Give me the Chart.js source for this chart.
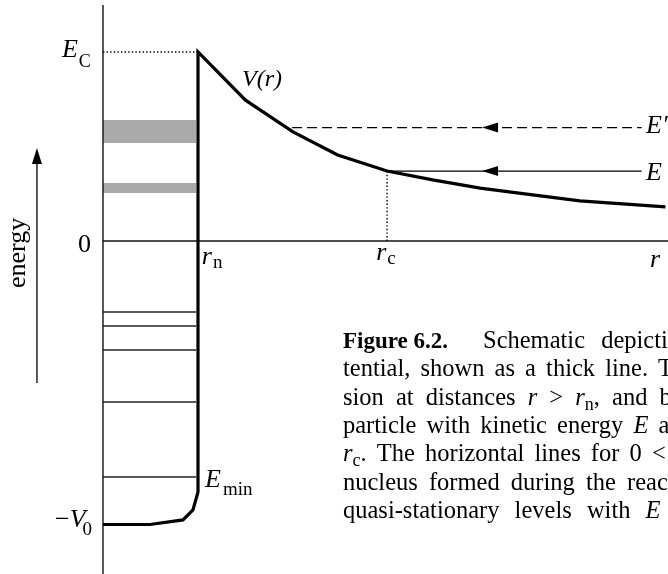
<!DOCTYPE html>
<html lang="en">
<head>
  <meta charset="UTF-8">
  <title>Nuclear potential with Coulomb barrier</title>
  <style>
    html, body { margin: 0; padding: 0; background: #fff; }
    #chart-container { width: 668px; height: 574px; position: relative; }
  </style>
</head>
<body>

<div id="chart-container">
  <canvas id="potentialChart"></canvas>
</div>

<script src="https://cdn.jsdelivr.net/npm/chart.js"></script>
<script>
  // r in units of r_n, energy in arbitrary units (E_C = 10)
  const rCurve = [1.0, 1.5, 2.0, 2.47, 2.99, 3.47, 3.97, 4.46, 5.02, 5.92];
  const vCurve = [10.0, 7.45, 5.77, 4.55, 3.70, 3.23, 2.80, 2.48, 2.12, 1.80];

  // wall and rounded bottom of the well, from r_n inwards
  const rWell = [1.0, 1.0, 0.947, 0.842, 0.495, 0.0];
  const vWell = [10.0, -13.28, -14.23, -14.76, -15.0, -15.0];

  const levelEnergies = [-3.76, -4.50, -5.77, -8.52, -12.49];
  const bandTops = [6.40, 3.07];
  const bandBottoms = [5.19, 2.54];

  const E_C = 10.0;
  const E_prime = 6.0;
  const E_kin = 3.70;
  const r_n = 1.0;
  const r_c = 2.99;
  const rLevelEnd = 0.98;
  const rPrimeStart = 1.99;
  const rIncomingEnd = 5.67;
  const rArrowTip = 3.99;
  const rEnergyArrow = -0.695;
  const energyArrowRange = [-7.51, 4.92];

  const rRange = [-1.084, 5.947];
  const eRange = [-17.62, 12.75];

  const serif = '"Liberation Serif", "Times New Roman", serif';
  const pts = (xs, ys) => xs.map((x, i) => ({ x: x, y: ys[i] }));
  const hline = (y, x0, x1) => [{ x: x0, y: y }, { x: x1, y: y }];

  const datasets = [];

  // thick potential line: curve (right to left) then wall and bottom
  datasets.push({
    data: pts(rCurve.slice().reverse(), vCurve.slice().reverse()).concat(pts(rWell, vWell).slice(1)),
    borderColor: '#000', borderWidth: 3.2, borderJoinStyle: 'miter', order: 0
  });

  // axes
  datasets.push({ data: [{ x: 0, y: 12.49 }, { x: 0, y: -18 }], borderColor: '#111', borderWidth: 1.4, order: 1 });
  datasets.push({ data: hline(0, 0, 6.1), borderColor: '#111', borderWidth: 1.4, order: 1 });

  // energy arrow shaft
  datasets.push({ data: [{ x: rEnergyArrow, y: energyArrowRange[0] }, { x: rEnergyArrow, y: energyArrowRange[1] - 0.4 }],
    borderColor: '#111', borderWidth: 1.4, order: 1 });

  // bound levels
  levelEnergies.forEach(e => {
    datasets.push({ data: hline(e, 0, rLevelEnd), borderColor: '#222', borderWidth: 1.4, order: 1 });
  });

  // E_C dotted, r_c dotted
  datasets.push({ data: hline(E_C, 0, r_n), borderColor: '#000', borderWidth: 1.4, borderDash: [1.4, 2.2], order: 1 });
  datasets.push({ data: [{ x: r_c, y: 0 }, { x: r_c, y: E_kin }], borderColor: '#000', borderWidth: 1.4, borderDash: [1.4, 2.2], order: 1 });

  // incoming particles
  datasets.push({ data: hline(E_prime, rPrimeStart, rIncomingEnd), borderColor: '#000', borderWidth: 1.3, borderDash: [10, 5], order: 1 });
  datasets.push({ data: hline(E_kin, r_c, rIncomingEnd), borderColor: '#000', borderWidth: 1.3, order: 1 });

  // quasi-stationary bands (filled between top and bottom edges)
  bandTops.forEach((top, i) => {
    datasets.push({ data: hline(top, 0, rLevelEnd), borderWidth: 0, fill: '+1', backgroundColor: '#aaaaaa', order: 5 });
    datasets.push({ data: hline(bandBottoms[i], 0, rLevelEnd), borderWidth: 0, fill: false, order: 5 });
  });

  const ital = s => `italic ${s}px ${serif}`;
  const reg = s => `${s}px ${serif}`;
  const bold = s => `bold ${s}px ${serif}`;

  // labels: [r, E, runs]; runs = [text, font, dx, dy]
  const labels = [
    [-0.432, 9.74, [['E', ital(26)], ['C', reg(18), 1, 10]]],
    [1.463, 8.20, [['V(r)', ital(24)]]],
    [-0.263, -0.58, [['0', reg(26)]]],
    [1.040, -1.22, [['r', ital(26)], ['n', reg(19), 1, 4]]],
    [2.875, -1.01, [['r', ital(26)], ['c', reg(19), 1, 4]]],
    [5.758, -1.38, [['r', ital(26)]]],
    [5.716, 5.71, [['E\u2032', ital(26)]]],
    [5.716, 3.23, [['E', ital(26)]]],
    [1.074, -13.02, [['E', ital(26)], ['min', reg(19), 2, 8]]],
    [-0.505, -15.13, [['\u2212', reg(26)], ['V', ital(26)], ['0', reg(19), -3, 8]]]
  ];

  // caption lines (justified in the original, so each line has its own extra word spacing)
  const cs = 24.5, csub = 18;
  const caption = [
    [10, [['Figure\u00a06.2.', bold(23)], ['Schematic depiction of the nuclear po-', reg(cs), 0, 0, 140]]],
    [4, [['tential, shown as a thick line.', reg(cs)], ['The Coulomb repul-', reg(cs), 0, 0, 315]]],
    [6, [['sion at distances ', reg(cs)], ['r', ital(cs)], [' > ', reg(cs)], ['r', ital(cs)], ['n', reg(csub), 0, 5], [', and barrier for a', reg(cs)]]],
    [4, [['particle with kinetic energy ', reg(cs)], ['E', ital(cs)], [' approaching', reg(cs)]]],
    [4, [['r', ital(cs)], ['c', reg(csub), 0, 5], ['. The horizontal lines for 0 < ', reg(cs)], ['r', ital(cs)], [' < ', reg(cs)]]],
    [5, [['nucleus formed during the reaction', reg(cs)]]],
    [9, [['quasi-stationary levels with ', reg(cs)], ['E', ital(cs)], [' > 0', reg(cs)]]]
  ];

  function drawRuns(ctx, x, y, runs, ws) {
    let cx = x;
    ws = ws || 0;
    runs.forEach(run => {
      const dx = run[2] || 0, dy = run[3] || 0;
      ctx.font = run[1];
      if (run[4] !== undefined) cx = x + run[4];
      cx += dx;
      const words = run[0].split(' ');
      const space = ctx.measureText(' ').width;
      words.forEach((w, i) => {
        if (w.length) {
          ctx.fillText(w, cx, y + dy);
          cx += ctx.measureText(w).width;
        }
        if (i < words.length - 1) cx += space + ws;
      });
    });
  }

  const annotations = {
    id: 'annotations',
    afterDatasetsDraw(chart) {
      const ctx = chart.ctx;
      const xs = chart.scales.x, ys = chart.scales.y;
      ctx.save();
      ctx.fillStyle = '#000';
      ctx.textBaseline = 'alphabetic';
      ctx.textAlign = 'left';

      // arrowheads pointing left on incoming lines
      [E_prime, E_kin].forEach(e => {
        const tx = xs.getPixelForValue(rArrowTip), ty = ys.getPixelForValue(e);
        ctx.beginPath();
        ctx.moveTo(tx, ty);
        ctx.lineTo(tx + 16, ty - 5);
        ctx.lineTo(tx + 16, ty + 5);
        ctx.closePath();
        ctx.fill();
      });

      // energy arrow head
      const ax = xs.getPixelForValue(rEnergyArrow), ay = ys.getPixelForValue(energyArrowRange[1]);
      ctx.beginPath();
      ctx.moveTo(ax, ay);
      ctx.lineTo(ax - 5, ay + 16);
      ctx.lineTo(ax + 5, ay + 16);
      ctx.closePath();
      ctx.fill();

      labels.forEach(l => drawRuns(ctx, xs.getPixelForValue(l[0]), ys.getPixelForValue(l[1]), l[2]));

      // rotated axis title
      ctx.save();
      ctx.translate(xs.getPixelForValue(-0.821), ys.getPixelForValue(-0.635));
      ctx.rotate(-Math.PI / 2);
      ctx.textAlign = 'center';
      ctx.font = reg(26);
      ctx.fillText('energy', 0, 0);
      ctx.restore();

      // caption
      const area = chart.chartArea;
      caption.forEach((line, i) => {
        drawRuns(ctx, area.left + 343, area.top + 348 + i * 28.3, line[1], line[0]);
      });
      ctx.restore();
    }
  };

  const ctx = document.getElementById('potentialChart').getContext('2d');
  const myChart = new Chart(ctx, {
    type: 'line',
    data: { datasets: datasets },
    options: {
      responsive: true,
      maintainAspectRatio: false,
      animation: false,
      events: [],
      layout: { padding: 0 },
      elements: { point: { radius: 0 }, line: { tension: 0, fill: false } },
      plugins: { legend: { display: false }, tooltip: { enabled: false } },
      scales: {
        x: { type: 'linear', min: rRange[0], max: rRange[1], display: false },
        y: { type: 'linear', min: eRange[0], max: eRange[1], display: false }
      }
    },
    plugins: [annotations]
  });
</script>

</body>
</html>
